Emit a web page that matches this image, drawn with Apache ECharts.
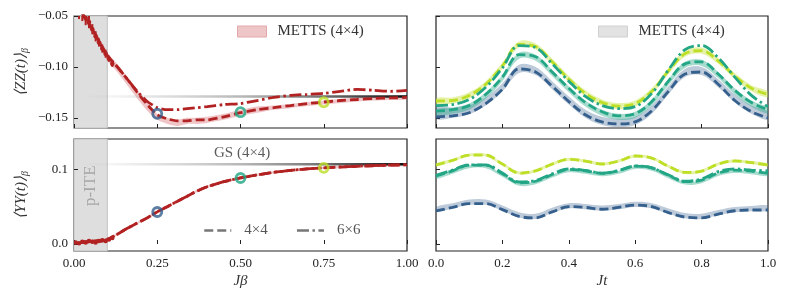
<!DOCTYPE html>
<html>
<head>
<meta charset="utf-8">
<script src="https://cdn.jsdelivr.net/npm/echarts@6/dist/echarts.min.js"></script>
<style>html,body{margin:0;padding:0;background:#fff}#c{width:789px;height:300px}</style>
</head>
<body>
<div id="c"></div>
<script>
// ---------- data: left panels (vs J beta) ----------
const betaGrid = [0.02,0.04,0.06,0.08,0.10,0.13,0.16,0.19,0.22,0.25,0.28,0.31,0.34,0.37,0.40,0.45,0.50,0.55,0.60,0.65,0.70,0.75,0.80,0.85,0.90,0.95,1.00];
const zz4 = [-0.045,-0.055,-0.066,-0.078,-0.089,-0.100,-0.112,-0.125,-0.137,-0.147,-0.151,-0.153,-0.153,-0.152,-0.152,-0.149,-0.145,-0.142,-0.140,-0.138,-0.136,-0.1345,-0.133,-0.132,-0.131,-0.1305,-0.130];
const zz6 = [-0.045,-0.055,-0.066,-0.078,-0.089,-0.100,-0.112,-0.124,-0.134,-0.140,-0.142,-0.142,-0.141,-0.140,-0.139,-0.137,-0.136,-0.133,-0.130,-0.128,-0.127,-0.126,-0.124,-0.122,-0.123,-0.124,-0.123];
const zzMetts = [-0.045,-0.055,-0.066,-0.078,-0.090,-0.101,-0.114,-0.127,-0.139,-0.149,-0.153,-0.155,-0.153,-0.153,-0.152,-0.149,-0.145,-0.142,-0.140,-0.1385,-0.1365,-0.135,-0.1335,-0.132,-0.131,-0.1305,-0.130];
const zzMettsErr = [0.004,0.004,0.004,0.004,0.004,0.004,0.004,0.004,0.004,0.003,0.003,0.003,0.003,0.003,0.003,0.003,0.003,0.003,0.002,0.002,0.002,0.002,0.002,0.002,0.002,0.002,0.002];
const yy4 = [0.002,0.003,0.004,0.004,0.006,0.013,0.021,0.028,0.035,0.043,0.050,0.057,0.064,0.071,0.0767,0.0834,0.0884,0.0925,0.096,0.0985,0.1005,0.102,0.103,0.104,0.1048,0.1055,0.106];
const yy6 = [0.002,0.003,0.004,0.004,0.006,0.013,0.021,0.028,0.035,0.043,0.050,0.057,0.064,0.071,0.0767,0.0834,0.0884,0.0925,0.096,0.0985,0.1005,0.102,0.1032,0.1042,0.105,0.1057,0.1062];
const yyMetts = [0.002,0.003,0.004,0.004,0.006,0.013,0.021,0.028,0.035,0.043,0.050,0.057,0.064,0.071,0.0767,0.0834,0.0884,0.0925,0.096,0.0985,0.1005,0.102,0.103,0.104,0.1048,0.1055,0.106];
const yyMettsErr = [0.002,0.002,0.002,0.002,0.002,0.0015,0.0015,0.0015,0.0015,0.0015,0.0015,0.0015,0.0015,0.0015,0.0015,0.0015,0.0015,0.0015,0.0015,0.0015,0.0015,0.0015,0.0015,0.0015,0.0015,0.0015,0.0015];
// early METTS points with error bars
const earlyBeta = [0.005,0.015,0.025,0.035,0.045,0.055,0.065,0.075,0.085,0.095,0.105,0.115];
const earlyZZ = [-0.040,-0.045,-0.048,-0.052,-0.056,-0.063,-0.070,-0.076,-0.082,-0.087,-0.092,-0.097];
const earlyZZErr = [0.008,0.008,0.007,0.007,0.006,0.005,0.005,0.004,0.004,0.004,0.003,0.003];
const earlyYY = [0.002,0.001,0.003,0.002,0.004,0.003,0.002,0.004,0.005,0.004,0.006,0.008];
const earlyYYErr = [0.002,0.002,0.002,0.002,0.002,0.002,0.002,0.002,0.002,0.002,0.002,0.002];
// highlighted temperatures
const markBeta = [0.25, 0.50, 0.75];
const markZZ = [-0.146, -0.1445, -0.1347];
const markYY = [0.0428, 0.0884, 0.102];
// ground state references
const gsZZ = -0.129;
const gsYY = 0.1067;
const gsStart = 0.03;

// ---------- data: right panels (vs J t) ----------
const tGrid = [0,0.05,0.1,0.15,0.2,0.25,0.3,0.35,0.4,0.45,0.5,0.55,0.6,0.65,0.7,0.75,0.8,0.85,0.9,0.95,1.0];
const zzBlue4   = [-0.149,-0.148,-0.145,-0.136,-0.122,-0.102,-0.105,-0.119,-0.134,-0.147,-0.154,-0.156,-0.154,-0.143,-0.124,-0.107,-0.105,-0.117,-0.133,-0.144,-0.150];
const zzTeal4   = [-0.1435,-0.142,-0.138,-0.127,-0.110,-0.088,-0.090,-0.105,-0.121,-0.135,-0.144,-0.148,-0.146,-0.134,-0.114,-0.097,-0.095,-0.107,-0.123,-0.135,-0.142];
const zzTeal6   = [-0.138,-0.137,-0.132,-0.120,-0.101,-0.079,-0.081,-0.097,-0.114,-0.129,-0.138,-0.141,-0.139,-0.126,-0.103,-0.083,-0.079,-0.091,-0.110,-0.128,-0.139];
const zzYellow4 = [-0.1335,-0.133,-0.128,-0.117,-0.099,-0.078,-0.080,-0.095,-0.112,-0.126,-0.135,-0.1385,-0.136,-0.124,-0.104,-0.087,-0.084,-0.094,-0.109,-0.121,-0.127];
const zzBlueM   = [-0.145,-0.145,-0.142,-0.134,-0.120,-0.102,-0.104,-0.118,-0.133,-0.146,-0.153,-0.155,-0.153,-0.142,-0.123,-0.106,-0.104,-0.116,-0.131,-0.142,-0.148];
const zzBlueMErr = [0.006,0.005,0.0045,0.004,0.004,0.004,0.004,0.004,0.004,0.004,0.004,0.004,0.004,0.004,0.004,0.004,0.004,0.004,0.004,0.004,0.004];
const zzTealM   = [-0.1445,-0.143,-0.139,-0.128,-0.111,-0.089,-0.091,-0.106,-0.122,-0.136,-0.145,-0.149,-0.147,-0.135,-0.115,-0.098,-0.096,-0.108,-0.124,-0.136,-0.143];
const zzTealMErr = [0.003,0.003,0.003,0.003,0.003,0.003,0.003,0.003,0.003,0.003,0.003,0.003,0.003,0.003,0.003,0.003,0.003,0.003,0.003,0.003,0.003];
const zzYellowM = [-0.1335,-0.133,-0.128,-0.117,-0.099,-0.078,-0.080,-0.095,-0.112,-0.126,-0.135,-0.1385,-0.136,-0.124,-0.104,-0.087,-0.084,-0.094,-0.109,-0.121,-0.127];
const zzYellowMErr = [0.003,0.003,0.003,0.003,0.003,0.003,0.003,0.003,0.003,0.003,0.003,0.003,0.003,0.003,0.003,0.003,0.003,0.003,0.003,0.003,0.003];

const yyBlue4   = [0.0442,0.049,0.054,0.054,0.046,0.037,0.035,0.043,0.050,0.049,0.0465,0.049,0.0522,0.050,0.042,0.036,0.035,0.040,0.0445,0.0455,0.0455];
const yyTeal4   = [0.091,0.098,0.1055,0.1055,0.094,0.082,0.084,0.093,0.100,0.098,0.0946,0.098,0.1044,0.102,0.092,0.0834,0.0855,0.095,0.099,0.0975,0.0946];
const yyTeal6   = [0.092,0.099,0.106,0.106,0.095,0.083,0.085,0.094,0.1005,0.0985,0.095,0.0985,0.1045,0.102,0.0925,0.084,0.087,0.097,0.1005,0.099,0.098];
const yyYellow4 = [0.1058,0.112,0.119,0.119,0.107,0.095,0.098,0.107,0.1134,0.111,0.1071,0.111,0.1178,0.115,0.104,0.0958,0.0975,0.107,0.1112,0.109,0.1058];
const yyBlueM   = [0.046,0.051,0.056,0.056,0.048,0.039,0.037,0.045,0.051,0.050,0.048,0.050,0.053,0.051,0.044,0.038,0.037,0.042,0.046,0.0475,0.048];
const yyBlueMErr = [0.0035,0.0035,0.0035,0.0035,0.0035,0.0035,0.0035,0.0035,0.0035,0.0035,0.0035,0.0035,0.0035,0.0035,0.0035,0.0035,0.0035,0.0035,0.0035,0.0035,0.0035];
const yyTealM   = [0.089,0.096,0.1035,0.1035,0.092,0.080,0.082,0.091,0.098,0.096,0.0928,0.096,0.1025,0.100,0.090,0.0815,0.0835,0.093,0.097,0.0955,0.0928];
const yyTealMErr = [0.002,0.002,0.002,0.002,0.002,0.002,0.002,0.002,0.002,0.002,0.002,0.002,0.002,0.002,0.002,0.002,0.002,0.002,0.002,0.002,0.002];
const yyYellowM = [0.1058,0.112,0.119,0.119,0.107,0.095,0.098,0.107,0.1134,0.111,0.1071,0.111,0.1178,0.115,0.104,0.0958,0.0975,0.107,0.1112,0.109,0.1058];
const yyYellowMErr = [0.002,0.002,0.002,0.002,0.002,0.002,0.002,0.002,0.002,0.002,0.002,0.002,0.002,0.002,0.002,0.002,0.002,0.002,0.002,0.002,0.002];

// tick labels
const leftTicksX = [0, 0.25, 0.5, 0.75, 1.0];
const rightTicksX = [0, 0.2, 0.4, 0.6, 0.8, 1.0];
const zzTicks = [-0.15, -0.10, -0.05];
const yyTicks = [0.0, 0.1];

// ---------- styling ----------
const FONT = 'Liberation Serif';
const RED = '#b22222';
const BLUE = '#355f8d', TEAL = '#22a685', YEL = '#bddf26';
const BLUE_B = 'rgba(53,95,141,0.33)', TEAL_B = 'rgba(34,166,133,0.4)', YEL_B = 'rgba(189,223,38,0.4)';
const PINK_B = 'rgba(214,110,115,0.4)';
const DASH = [9, 4];
const DASHDOT = [12, 3.5, 2.5, 3.5];
const LW = 2.8;
const LEGEND_NAME = 'METTS (4×4)';

const pairs = (xs, ys) => xs.map((x, i) => [x, ys[i]]);

// METTS band: polygon between center-err and center+err, positioned via the axes (api.coord)
function band(xs, center, err, xi, yi, color, smooth) {
  return {type:'custom', name:LEGEND_NAME, xAxisIndex:xi, yAxisIndex:yi, clip:true, z:1, silent:true,
    itemStyle:{color},
    data: xs.map((x, i) => [x, center[i] - err[i], center[i] + err[i]]),
    renderItem(params, api) {
      if (params.dataIndexInside !== 0) return null;
      const n = params.dataInsideLength;
      const up = [], lo = [];
      for (let i = 0; i < n; i++) {
        const x = api.value(0, i);
        up.push(api.coord([x, api.value(2, i)]));
        lo.push(api.coord([x, api.value(1, i)]));
      }
      const pts = up.concat(lo.reverse());
      return {type:'polygon', shape:{points:pts, smooth}, style:{fill:color}};
    }};
}
function line(xs, ys, xi, yi, color, type, name, smooth) {
  return {type:'line', name:name || '_l', xAxisIndex:xi, yAxisIndex:yi, data:pairs(xs, ys), symbol:'none',
          smooth, lineStyle:{color, width:LW, type}, itemStyle:{color}, z:4, silent:true};
}
function errbars(xs, ys, es, xi, yi) {
  return {type:'custom', xAxisIndex:xi, yAxisIndex:yi, clip:true, z:3, silent:true,
    data: xs.map((x, i) => [x, ys[i], es[i]]),
    renderItem(params, api) {
      const x = api.value(0), y = api.value(1), e = api.value(2);
      const p0 = api.coord([x, y - e]), p1 = api.coord([x, y + e]), c = api.coord([x, y]);
      return {type:'group', children:[
        {type:'line', shape:{x1:p0[0], y1:p0[1], x2:p1[0], y2:p1[1]}, style:{stroke:RED, lineWidth:2}},
        {type:'circle', shape:{cx:c[0], cy:c[1], r:2.3}, style:{fill:RED}}
      ]};
    }};
}
function gsLine(value, xi, yi) {
  return {type:'line', name:'_gs', xAxisIndex:xi, yAxisIndex:yi, data:[[gsStart, value], [1.0, value]],
    symbol:'none', z:2, silent:true,
    lineStyle:{width:2.5, color:new echarts.graphic.LinearGradient(0, 0, 1, 0, [
      {offset:0, color:'rgba(170,170,170,0)'}, {offset:0.5, color:'rgba(130,130,130,0.6)'}, {offset:1, color:'rgba(10,10,10,1)'}])},
    markArea:{silent:true, z:0, itemStyle:{color:'#dedede', borderColor:'#c2c2c2', borderWidth:1},
      data:[[{xAxis:0}, {xAxis:0.1}]]}};
}
function circles(ys, xi, yi) {
  const cols = [BLUE, TEAL, YEL];
  return {type:'scatter', xAxisIndex:xi, yAxisIndex:yi, z:6, silent:true, symbol:'circle', symbolSize:9,
    data: markBeta.map((b, i) => ({value:[b, ys[i]], itemStyle:{color:'rgba(0,0,0,0)', borderColor:cols[i], borderWidth:2.8}}))};
}
function textMark(x, y, txt, xi, yi, style) {
  return {type:'scatter', xAxisIndex:xi, yAxisIndex:yi, z:5, silent:true, symbol:'rect', symbolSize:1,
    itemStyle:{color:'rgba(0,0,0,0)'},
    data:[{value:[x, y], label:Object.assign({show:true, position:'inside', formatter:txt, fontFamily:FONT}, style)}]};
}

const tickLabel = {fontFamily:FONT, fontSize:13, color:'#222'};
function xAxis(gi, ticks, showLabels, digits, name) {
  return {type:'value', gridIndex:gi, min:0, max:1,
    axisLine:{show:false}, splitLine:{show:false},
    axisTick:{show:true, inside:true, length:4, customValues:ticks, lineStyle:{color:'#222', width:1}},
    axisLabel:Object.assign({show:showLabels, customValues:ticks, margin:6, formatter:v => v.toFixed(digits)}, tickLabel),
    name:name || '', nameLocation:'middle', nameGap:23,
    nameTextStyle:{fontFamily:FONT, fontSize:15, fontStyle:'italic', color:'#333'}};
}
function yAxis(gi, min, max, ticks, showLabels, digits, name) {
  return {type:'value', gridIndex:gi, min, max,
    axisLine:{show:false}, splitLine:{show:false},
    axisTick:{show:true, inside:true, length:4, customValues:ticks, lineStyle:{color:'#222', width:1}},
    axisLabel:Object.assign({show:showLabels, customValues:ticks, margin:6,
      formatter:v => v.toFixed(digits).replace('-', '\u2212')}, tickLabel),
    name:name || '', nameLocation:'middle', nameGap:44, nameRotate:90,
    nameTextStyle:{fontFamily:FONT, fontSize:15, color:'#333',
      rich:{a:{fontFamily:FONT, fontSize:15, fontStyle:'italic', color:'#333', lineHeight:18},
            s:{fontFamily:FONT, fontSize:10, fontStyle:'italic', color:'#333', verticalAlign:'bottom', lineHeight:18, padding:[6,0,0,0]}}}};
}

const ZZMIN = -0.16, ZZMAX = -0.05, YYMIN = -0.0094, YYMAX = 0.1406;
const SM = 0.35;

const series = [
  // ---- top-left ----
  gsLine(gsZZ, 0, 0),
  band(betaGrid, zzMetts, zzMettsErr, 0, 0, PINK_B, 0.2),
  errbars(earlyBeta, earlyZZ, earlyZZErr, 0, 0),
  line(betaGrid, zz4, 0, 0, RED, DASH, '4×4', 0.2),
  line(betaGrid, zz6, 0, 0, RED, DASHDOT, '6×6', 0.2),
  circles(markZZ, 0, 0),
  // ---- bottom-left ----
  gsLine(gsYY, 1, 1),
  band(betaGrid, yyMetts, yyMettsErr, 1, 1, PINK_B, 0.2),
  errbars(earlyBeta, earlyYY, earlyYYErr, 1, 1),
  line(betaGrid, yy6, 1, 1, RED, DASHDOT, '6×6', 0.2),
  line(betaGrid, yy4, 1, 1, RED, DASH, '4×4', 0.2),
  circles(markYY, 1, 1),
  textMark(0.505, 0.1222, 'GS (4×4)', 1, 1, {fontSize:15, color:'#333'}),
  textMark(0.05, 0.078, 'p-ITE', 1, 1, {fontSize:17, color:'#999', rotate:90}),
  // ---- top-right ----
  band(tGrid, zzBlueM, zzBlueMErr, 2, 2, BLUE_B, SM),
  band(tGrid, zzTealM, zzTealMErr, 2, 2, TEAL_B, SM),
  band(tGrid, zzYellowM, zzYellowMErr, 2, 2, YEL_B, SM),
  line(tGrid, zzBlue4, 2, 2, BLUE, DASH, null, SM),
  line(tGrid, zzTeal4, 2, 2, TEAL, DASH, null, SM),
  line(tGrid, zzYellow4, 2, 2, YEL, DASH, null, SM),
  line(tGrid, zzTeal6, 2, 2, TEAL, DASHDOT, null, SM),
  // ---- bottom-right ----
  band(tGrid, yyBlueM, yyBlueMErr, 3, 3, BLUE_B, SM),
  band(tGrid, yyTealM, yyTealMErr, 3, 3, TEAL_B, SM),
  band(tGrid, yyYellowM, yyYellowMErr, 3, 3, YEL_B, SM),
  line(tGrid, yyBlue4, 3, 3, BLUE, DASH, null, SM),
  line(tGrid, yyTeal6, 3, 3, TEAL, DASHDOT, null, SM),
  line(tGrid, yyTeal4, 3, 3, TEAL, DASH, null, SM),
  line(tGrid, yyYellow4, 3, 3, YEL, DASH, null, SM)
];

const gridBase = {show:true, borderColor:'#222', borderWidth:1.2, backgroundColor:'rgba(0,0,0,0)'};
const legendText = {fontFamily:FONT, fontSize:15, color:'#333', padding:[0,0,0,6]};

const option = {
  animation:false,
  textStyle:{fontFamily:FONT},
  grid:[
    Object.assign({left:74, top:16, width:333, height:112}, gridBase),
    Object.assign({left:74, top:139, width:333, height:112}, gridBase),
    Object.assign({left:436, top:16, width:332, height:112}, gridBase),
    Object.assign({left:436, top:139, width:332, height:112}, gridBase)
  ],
  xAxis:[
    xAxis(0, leftTicksX, false, 2),
    xAxis(1, leftTicksX, true, 2, 'Jβ'),
    xAxis(2, rightTicksX, false, 1),
    xAxis(3, rightTicksX, true, 1, 'Jt')
  ],
  yAxis:[
    yAxis(0, ZZMIN, ZZMAX, zzTicks, true, 2, '{a|⟨ZZ(t)⟩}{s|β}'),
    yAxis(1, YYMIN, YYMAX, yyTicks, true, 1, '{a|⟨YY(t)⟩}{s|β}'),
    yAxis(2, ZZMIN, ZZMAX, zzTicks, false, 2),
    yAxis(3, YYMIN, YYMAX, yyTicks, false, 1)
  ],
  legend:[
    {left:237, top:24, padding:0, selectedMode:false, itemWidth:29, itemHeight:11, textStyle:legendText,
     data:[{name:LEGEND_NAME, icon:'rect', itemStyle:{color:'#efc6c8', borderColor:'#e2a8ab', borderWidth:1}}]},
    {left:598, top:24, padding:0, selectedMode:false, itemWidth:29, itemHeight:11, textStyle:legendText,
     data:[{name:LEGEND_NAME, icon:'rect', itemStyle:{color:'#e2e2e2', borderColor:'#d0d0d0', borderWidth:1}}]},
    {left:203, top:223, padding:0, selectedMode:false, itemWidth:27, itemHeight:14, itemGap:28,
     textStyle:{fontFamily:FONT, fontSize:15, color:'#555', padding:[0,0,0,8]},
     data:[{name:'4×4', itemStyle:{color:'#777', opacity:0}, lineStyle:{color:'#777', type:DASH, width:2.5}},
           {name:'6×6', itemStyle:{color:'#777', opacity:0}, lineStyle:{color:'#777', type:DASHDOT, width:2.5}}]}
  ],
  series
};

const chart = echarts.init(document.getElementById('c'), null, {renderer:'canvas'});
chart.setOption(option);
</script>
</body>
</html>
